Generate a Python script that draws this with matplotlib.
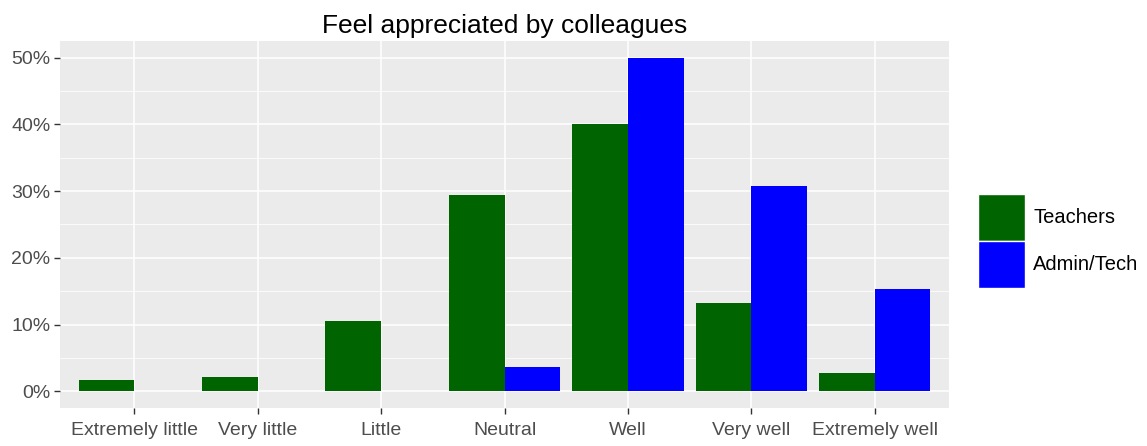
import matplotlib
import numpy as np

matplotlib.use("Agg")
import matplotlib.pyplot as plt  # noqa: E402
from matplotlib.legend_handler import HandlerPatch  # noqa: E402
from matplotlib.patches import Rectangle  # noqa: E402
from matplotlib.ticker import FuncFormatter, MultipleLocator  # noqa: E402

plt.rcParams["font.family"] = ["Liberation Sans", "DejaVu Sans"]

# ---------------------------------------------------------------------------
# Data
# ---------------------------------------------------------------------------
categories = ["Extremely little", "Very little", "Little", "Neutral",
              "Well", "Very well", "Extremely well"]
teachers = [0.017, 0.022, 0.106, 0.294, 0.400, 0.133, 0.027]
admin_tech = [0.0, 0.0, 0.0, 0.037, 0.500, 0.308, 0.153]
series_names = ["Teachers", "Admin/Tech"]
series_colors = ["#006400", "#0000FF"]

# ---------------------------------------------------------------------------
# Figure
# ---------------------------------------------------------------------------
W, H = 1147, 446
fig = plt.figure(figsize=(W / 100, H / 100), dpi=100)
ax = fig.add_axes([60 / W, (H - 408) / H, (949 - 60) / W, (408 - 41) / H])
ax.set_facecolor("#EBEBEB")

x = np.arange(1, len(categories) + 1)
bw = 0.45
for i, (vals, name, col) in enumerate(zip([teachers, admin_tech], series_names, series_colors)):
    ax.bar(x + (i - 0.5) * bw, vals, width=bw, color=col, label=name,
           linewidth=0, zorder=3)

ax.set_xlim(0.4, len(categories) + 0.6)
ax.set_ylim(-0.025, 0.525)
ax.set_xticks(x)
ax.set_xticklabels(categories)
ax.yaxis.set_major_locator(MultipleLocator(0.1))
ax.yaxis.set_minor_locator(MultipleLocator(0.05))
ax.yaxis.set_major_formatter(FuncFormatter(lambda v, p: f"{v * 100:.0f}%"))

ax.grid(which="major", color="white", linewidth=1.1, zorder=0)
ax.grid(which="minor", axis="y", color="white", linewidth=0.55, zorder=0)
ax.set_axisbelow(True)
for s in ax.spines.values():
    s.set_visible(False)
ax.tick_params(axis="both", which="major", length=4, width=1, color="#333333",
               labelsize=14, labelcolor="#4D4D4D", pad=3)
ax.tick_params(axis="x", which="major", pad=6)
ax.tick_params(axis="y", which="minor", length=0)

ax.set_title("Feel appreciated by colleagues", fontsize=19, pad=6)


def full_key(legend, orig_handle, xdescent, ydescent, width, height, fontsize):
    return Rectangle((-xdescent, -ydescent), width, height)


fs_px = 14.5 * 100 / 72
key_h = (47 / fs_px - 0.245) / 0.65
leg = ax.legend(loc="center left", bbox_to_anchor=(978 / W, (H - 240.5) / H),
                bbox_transform=fig.transFigure, frameon=False,
                fontsize=14.5, handlelength=47 / fs_px, handleheight=key_h,
                labelspacing=0.0, handletextpad=0.4, borderaxespad=0, borderpad=0,
                handler_map={Rectangle: HandlerPatch(patch_func=full_key)})
for p in leg.get_patches():
    p.set_edgecolor("white")
    p.set_linewidth(1)

fig.savefig("out.png", dpi=100)
